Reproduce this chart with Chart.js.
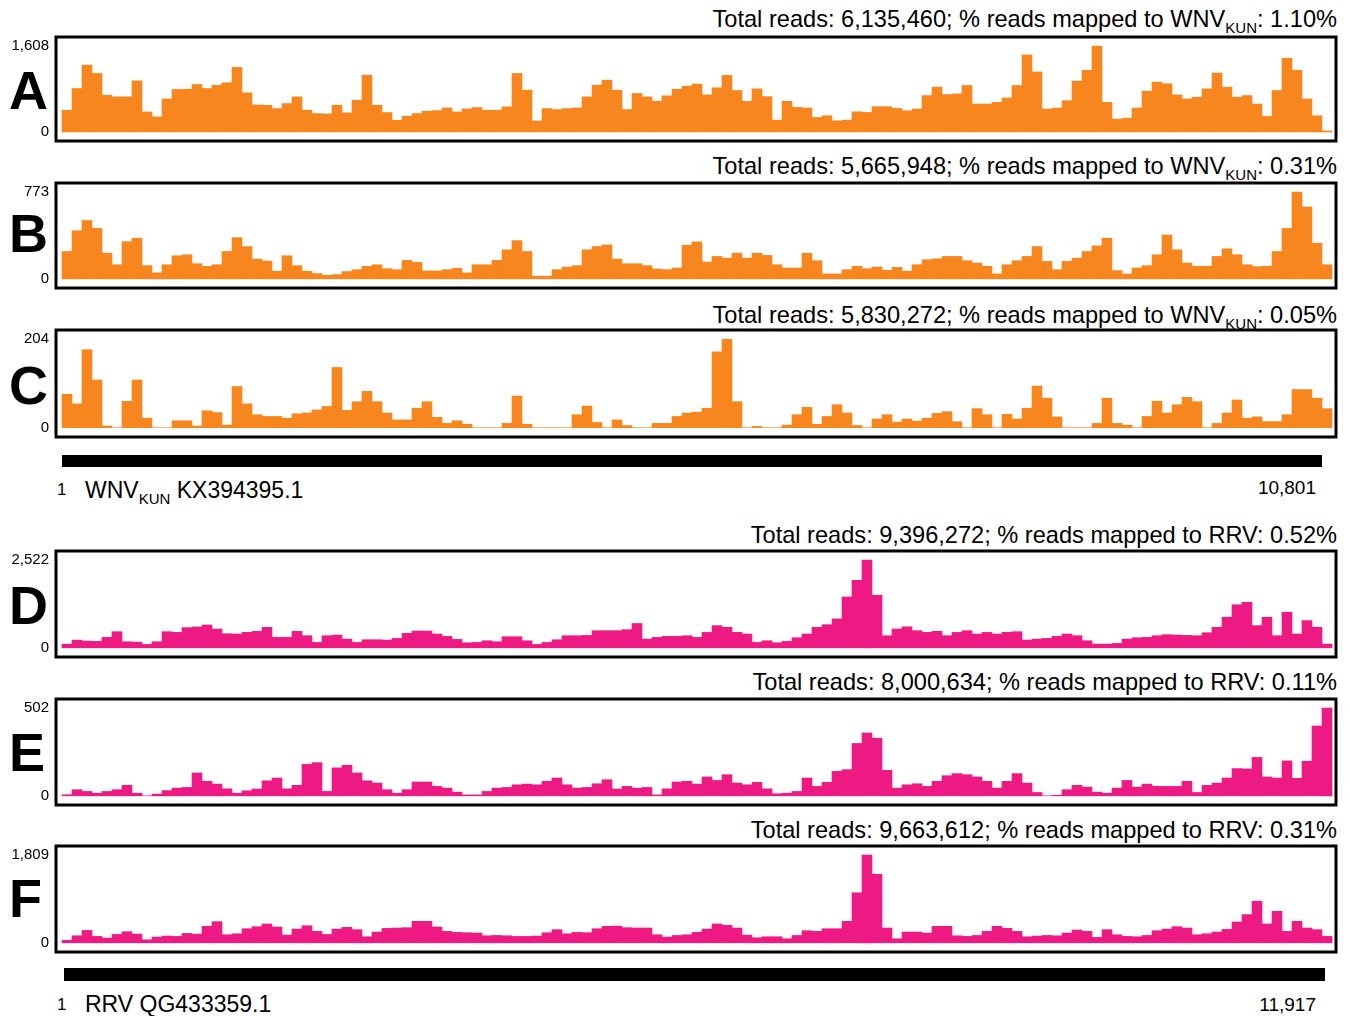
<!DOCTYPE html>
<html>
<head>
<meta charset="utf-8">
<title>Read coverage WNV / RRV</title>
<script src="https://cdn.jsdelivr.net/npm/chart.js@4.4.0/dist/chart.umd.min.js"></script>
<style>
	body { margin: 0; background: #fff; color: #000; font-family: "Liberation Sans", Arial, Helvetica, sans-serif; }
	#page { position: relative; width: 1350px; height: 1016px; overflow: hidden; }
	canvas { position: absolute; left: 0; }
	.letter { position: absolute; left: 9px; font-weight: bold; font-size: 54px; line-height: 54px; }
	.title { position: absolute; right: 13px; font-size: 23.6px; line-height: 24px; white-space: nowrap; }
	.name { position: absolute; left: 85px; font-size: 23px; line-height: 23px; white-space: nowrap; }
	.start { position: absolute; left: 57px; font-size: 17px; line-height: 17px; }
	.end { position: absolute; right: 34px; font-size: 19px; line-height: 19px; }
	sub { font-size: 15px; vertical-align: -6px; line-height: 0; }
</style>
</head>
<body>
<div id="page"></div>
<script>
// Genome lengths (nt)
const wnvLength = 10801;
const rrvLength = 11917;

// Panel letters, totals and % mapped
const panelLetters = ["A", "B", "C", "D", "E", "F"];
const totalReads = ["6,135,460", "5,665,948", "5,830,272", "9,396,272", "8,000,634", "9,663,612"];
const pctMapped = ["1.10%", "0.31%", "0.05%", "0.52%", "0.11%", "0.31%"];

// y axis tick labels (0 and max depth)
const ticksA = [0, 1608];
const ticksB = [0, 773];
const ticksC = [0, 204];
const ticksD = [0, 2522];
const ticksE = [0, 502];
const ticksF = [0, 1809];

// Read depth per genome window (left to right)
const depthA = [405, 813, 1251, 1095, 688, 657, 657, 957, 375, 282,
	619, 795, 800, 888, 813, 876, 920, 1208, 732, 507,
	500, 438, 532, 657, 407, 344, 338, 500, 357, 594,
	1063, 500, 363, 219, 294, 344, 388, 400, 450, 375,
	432, 457, 407, 407, 470, 1095, 782, 206, 438, 419,
	438, 450, 657, 876, 970, 782, 419, 720, 657, 576,
	676, 800, 857, 895, 694, 826, 1060, 776, 574, 807,
	662, 221, 574, 460, 448, 271, 303, 208, 221, 378,
	366, 473, 473, 441, 397, 429, 681, 839, 700, 712,
	870, 523, 523, 555, 637, 870, 1440, 1123, 429, 448,
	586, 952, 1154, 1608, 555, 240, 259, 448, 763, 933,
	902, 694, 618, 650, 807, 1103, 839, 650, 681, 523,
	290, 776, 1380, 1154, 618, 303, 20];

const depthB = [244, 429, 520, 450, 229, 126, 332, 362, 118, 53,
	126, 206, 215, 135, 112, 126, 244, 367, 288, 176,
	159, 68, 206, 118, 68, 47, 32, 38, 65, 82,
	112, 126, 91, 82, 165, 147, 71, 71, 82, 94,
	53, 126, 126, 165, 259, 341, 244, 24, 24, 82,
	106, 118, 259, 288, 303, 176, 135, 135, 118, 88,
	82, 97, 300, 330, 150, 200, 185, 229, 185, 229,
	209, 126, 97, 97, 229, 162, 44, 44, 82, 112,
	91, 106, 76, 103, 68, 126, 171, 179, 200, 200,
	162, 141, 112, 44, 126, 162, 200, 288, 156, 82,
	156, 185, 244, 294, 362, 74, 44, 97, 118, 215,
	391, 259, 141, 112, 112, 200, 268, 215, 126, 109,
	112, 244, 450, 773, 640, 317, 126];

const depthC = [77, 55, 180, 110, 4, 0, 61, 110, 22, 0,
	0, 16, 16, 4, 39, 35, 6, 95, 55, 30,
	26, 26, 22, 32, 34, 41, 49, 139, 40, 60,
	84, 60, 34, 18, 18, 45, 60, 24, 10, 16,
	8, 0, 0, 0, 10, 73, 8, 0, 0, 0,
	0, 30, 50, 12, 0, 18, 5, 0, 0, 10,
	10, 26, 34, 36, 45, 175, 204, 60, 0, 3,
	0, 0, 6, 30, 47, 8, 26, 53, 34, 5,
	0, 20, 30, 13, 20, 15, 22, 33, 37, 14,
	0, 44, 30, 0, 31, 20, 45, 96, 68, 25,
	0, 0, 0, 10, 68, 10, 6, 0, 26, 61,
	34, 53, 70, 60, 0, 10, 34, 64, 22, 25,
	14, 14, 30, 88, 88, 68, 44];

const depthD = [106, 222, 193, 184, 300, 464, 174, 164, 97, 174,
	464, 444, 580, 600, 657, 541, 406, 396, 444, 473,
	590, 300, 300, 473, 348, 155, 348, 367, 251, 155,
	232, 232, 222, 271, 416, 483, 483, 396, 329, 242,
	145, 155, 203, 174, 319, 319, 203, 97, 155, 232,
	348, 348, 357, 493, 493, 493, 522, 700, 251, 300,
	329, 329, 348, 300, 444, 638, 590, 444, 396, 155,
	203, 145, 184, 290, 396, 590, 666, 832, 1463, 1942,
	2522, 1513, 348, 541, 605, 493, 444, 474, 348, 444,
	493, 396, 444, 396, 444, 464, 222, 251, 271, 329,
	396, 348, 203, 106, 106, 126, 251, 290, 300, 348,
	378, 367, 357, 348, 434, 590, 880, 1240, 1311, 638,
	880, 348, 1024, 396, 783, 590, 106];

const depthE = [6, 35, 25, 15, 25, 35, 60, 15, 0, 10,
	30, 44, 48, 131, 83, 67, 40, 15, 29, 39,
	86, 102, 40, 60, 180, 190, 25, 160, 175, 131,
	86, 73, 35, 15, 35, 79, 79, 54, 44, 21,
	5, 5, 25, 44, 48, 63, 67, 63, 83, 102,
	63, 44, 48, 69, 92, 39, 54, 44, 48, 5,
	40, 79, 83, 67, 108, 88, 121, 73, 63, 77,
	40, 12, 15, 25, 102, 54, 77, 140, 150, 300,
	360, 330, 146, 44, 63, 69, 54, 83, 115, 127,
	121, 108, 83, 44, 83, 127, 73, 19, 0, 3,
	35, 60, 50, 21, 15, 44, 88, 50, 67, 54,
	54, 54, 83, 19, 60, 73, 102, 156, 154, 220,
	108, 102, 200, 100, 198, 400, 502];

const depthF = [50, 145, 256, 132, 97, 173, 229, 180, 62, 118,
	139, 132, 194, 180, 340, 437, 166, 187, 291, 333,
	389, 326, 159, 284, 353, 236, 173, 284, 319, 271,
	125, 222, 298, 305, 312, 443, 443, 326, 236, 215,
	208, 201, 145, 152, 145, 132, 132, 139, 208, 271,
	187, 215, 208, 291, 340, 344, 312, 305, 305, 166,
	118, 152, 166, 215, 284, 389, 362, 305, 159, 104,
	125, 125, 83, 152, 250, 236, 291, 291, 443, 1033,
	1809, 1414, 305, 83, 222, 222, 201, 340, 340, 145,
	132, 152, 236, 340, 298, 236, 125, 139, 152, 145,
	201, 264, 236, 111, 271, 166, 132, 125, 152, 250,
	284, 333, 305, 166, 187, 222, 277, 430, 582, 859,
	389, 650, 236, 443, 305, 271, 132];

const orange = "#f7861f";
const pink = "#ee1a83";
const fontFamily = '"Liberation Sans", Arial, Helvetica, sans-serif';

// frame box of each panel (top, height) and title / letter centres
const frames = [[37, 104], [183, 105], [330, 107], [551, 106], [699, 106], [846, 106]];
const titleCentres = [19, 166, 315, 535, 682, 830];
const letterCentres = [89, 232, 384, 604, 751, 897];

const page = document.getElementById("page");

// Black frame around the plot area
const framePlugin = {
	id: "frame",
	afterDraw(chart) {
		const { ctx, chartArea: a } = chart;
		ctx.save();
		ctx.lineWidth = 3;
		ctx.strokeStyle = "#000";
		ctx.strokeRect(a.left, a.top, a.right - a.left, a.bottom - a.top);
		ctx.restore();
	},
};

function addCanvas(top, height) {
	const c = document.createElement("canvas");
	c.width = 1350;
	c.height = height;
	c.style.top = top + "px";
	page.appendChild(c);
	return c;
}

function coverageChart(index, values, yTicks, color) {
	const [top, height] = frames[index];
	// 20px of room above and below the frame so tick labels don't shrink the plot
	const canvas = addCanvas(top - 20, height + 40);
	const yMax = yTicks[yTicks.length - 1];
	const pad = yMax * 0.105;

	return new Chart(canvas, {
		type: "bar",
		data: {
			datasets: [
				{
					data: values.map((v, i) => ({ x: i + 0.5, y: v })),
					backgroundColor: color,
					borderWidth: 0,
					barPercentage: 1,
					categoryPercentage: 1,
				},
			],
		},
		options: {
			responsive: false,
			animation: false,
			layout: { padding: { top: 20, bottom: 20, left: 0, right: 14 } },
			plugins: { legend: { display: false }, tooltip: { enabled: false } },
			scales: {
				x: {
					type: "linear",
					offset: false,
					min: -0.6,
					max: values.length + 0.4,
					display: false,
				},
				y: {
					min: -pad,
					max: yMax + pad,
					afterFit: (scale) => {
						scale.width = 56;
					},
					afterBuildTicks: (scale) => {
						scale.ticks = yTicks.map((v) => ({ value: v }));
					},
					grid: { display: false, drawTicks: false },
					border: { display: false },
					ticks: {
						padding: 7,
						color: "#000",
						font: { family: fontFamily, size: 15 },
						callback: (v) => v.toLocaleString("en-US"),
					},
				},
			},
		},
		plugins: [framePlugin],
	});
}

// Genome track: one floating bar from nt 1 to the genome length
function genomeChart(top, height, left, right, length) {
	const canvas = addCanvas(top, height);
	return new Chart(canvas, {
		type: "bar",
		data: {
			labels: ["genome"],
			datasets: [
				{
					data: [[1, length]],
					backgroundColor: "#000",
					borderWidth: 0,
					barPercentage: 1,
					categoryPercentage: 1,
				},
			],
		},
		options: {
			indexAxis: "y",
			responsive: false,
			animation: false,
			layout: { padding: { left: left, right: 1350 - right, top: 0, bottom: 0 } },
			plugins: { legend: { display: false }, tooltip: { enabled: false } },
			scales: {
				x: { type: "linear", min: 1, max: length, display: false },
				y: { display: false },
			},
		},
	});
}

function addText(cls, top, html) {
	const d = document.createElement("div");
	d.className = cls;
	d.style.top = top + "px";
	d.innerHTML = html;
	page.appendChild(d);
}

// Titles and panel letters
panelLetters.forEach((letter, i) => {
	const virus = i < 3 ? "WNV<sub>KUN</sub>" : "RRV";
	addText("title", titleCentres[i] - 12, "Total reads: " + totalReads[i] + "; % reads mapped to " + virus + ": " + pctMapped[i]);
	addText("letter", letterCentres[i] - 26, letter);
});

coverageChart(0, depthA, ticksA, orange);
coverageChart(1, depthB, ticksB, orange);
coverageChart(2, depthC, ticksC, orange);
coverageChart(3, depthD, ticksD, pink);
coverageChart(4, depthE, ticksE, pink);
coverageChart(5, depthF, ticksF, pink);

// Genome tracks and their labels
genomeChart(455, 12, 62, 1322, wnvLength);
genomeChart(968, 13, 64, 1325, rrvLength);

addText("start", 481, "1");
addText("name", 479, "WNV<sub>KUN</sub> KX394395.1");
addText("end", 478, wnvLength.toLocaleString("en-US"));
addText("start", 996, "1");
addText("name", 993, "RRV QG433359.1");
addText("end", 995, rrvLength.toLocaleString("en-US"));
</script>
</body>
</html>
